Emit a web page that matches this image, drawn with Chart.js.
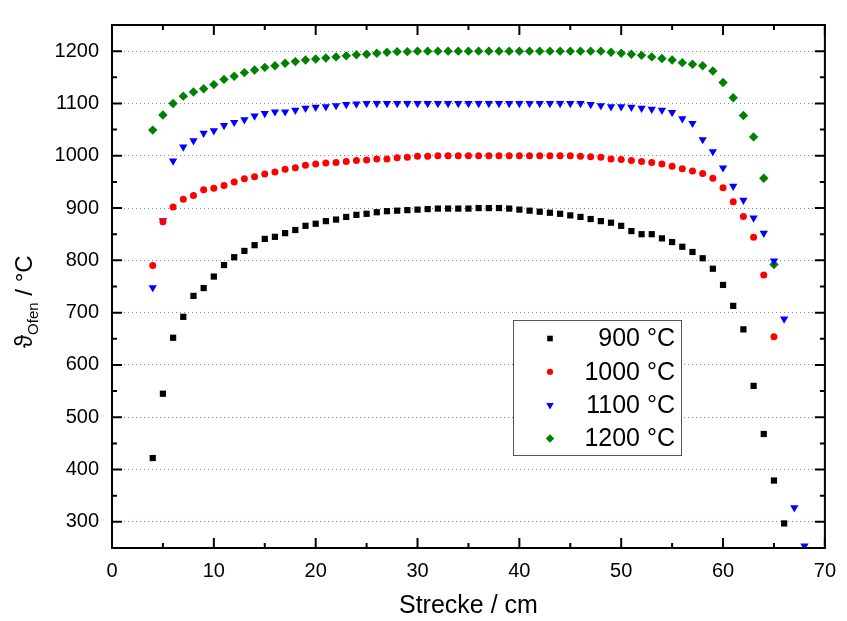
<!DOCTYPE html>
<html>
<head>
<meta charset="utf-8">
<title>Ofentemperatur über Strecke</title>
<script src="https://cdn.jsdelivr.net/npm/chart.js@4.4.1/dist/chart.umd.min.js"></script>
<style>
  html, body { margin: 0; padding: 0; background: #fff; }
  #wrap { width: 847px; height: 621px; }
</style>
</head>
<body>
<div id="wrap"><canvas id="ofenChart" width="847" height="621"></canvas></div>
<script>
// Messpunkte: Strecke in cm, Ofentemperatur in °C
const strecke = [4, 5, 6, 7, 8, 9, 10, 11, 12, 13, 14, 15, 16, 17, 18, 19, 20, 21, 22, 23,
  24, 25, 26, 27, 28, 29, 30, 31, 32, 33, 34, 35, 36, 37, 38, 39, 40, 41, 42, 43,
  44, 45, 46, 47, 48, 49, 50, 51, 52, 53, 54, 55, 56, 57, 58, 59, 60, 61, 62, 63,
  64, 65, 66, 67, 68];

const ofen900 = [422, 545, 652, 692, 732, 747, 769, 791, 806, 818,
  829, 841, 845, 852, 858, 866, 870, 875, 878, 883,
  887, 889, 892, 894, 895, 896, 897, 898, 899, 899,
  899, 899, 900, 900, 900, 899, 897, 895, 893, 891,
  889, 886, 883, 879, 875, 872, 866, 856, 850, 850,
  842, 835, 826, 816, 804, 784, 753, 713, 668, 560,
  468, 379, 297, null, null];

const ofen1000 = [790, 874, 902, 917, 924, 935, 938, 943, 950, 956,
  960, 965, 969, 974, 977, 982, 984, 986, 987, 989,
  991, 992, 994, 994, 996, 997, 999, 999, 1000, 1000,
  1000, 1000, 1000, 1000, 1000, 1000, 1000, 1000, 1000, 1000,
  1000, 1000, 999, 998, 997, 994, 993, 991, 989, 987,
  984, 980, 975, 971, 966, 957, 939, 912, 884, 844,
  772, 654, null, null, null];

const ofen1100 = [748, 876, 990, 1017, 1029, 1043, 1048, 1058, 1064, 1069,
  1076, 1081, 1084, 1084, 1087, 1091, 1093, 1094, 1096, 1098,
  1099, 1100, 1100, 1100, 1100, 1100, 1100, 1100, 1100, 1100,
  1100, 1100, 1100, 1100, 1100, 1100, 1100, 1100, 1100, 1100,
  1100, 1100, 1100, 1098, 1096, 1094, 1094, 1093, 1091, 1089,
  1087, 1083, 1071, 1062, 1031, 1008, 977, 942, 915, 881,
  852, 799, 688, 327, 254];

const ofen1200 = [1049, 1078, 1100, 1114, 1122, 1128, 1136, 1146, 1152, 1159,
  1164, 1169, 1172, 1177, 1180, 1183, 1185, 1187, 1189, 1191,
  1193, 1194, 1196, 1198, 1199, 1199, 1200, 1200, 1200, 1200,
  1200, 1200, 1200, 1200, 1200, 1200, 1200, 1200, 1200, 1200,
  1200, 1200, 1200, 1200, 1200, 1198, 1196, 1194, 1192, 1189,
  1186, 1183, 1178, 1175, 1172, 1162, 1140, 1111, 1077, 1036,
  957, 792, null, null, null];

const serienNamen = ['900 °C', '1000 °C', '1100 °C', '1200 °C'];
const xTicks = [0, 10, 20, 30, 40, 50, 60, 70];
const yTicks = [300, 400, 500, 600, 700, 800, 900, 1000, 1100, 1200];

const FONT = 'Arial, "Liberation Sans", sans-serif';

function punkte(werte) {
  return strecke.map((x, i) => ({ x: x, y: werte[i] })).filter(p => p.y !== null);
}

// Rahmen mit nach innen zeigenden Haupt- und Nebenstrichen auf allen vier Seiten
const rahmenPlugin = {
  id: 'rahmen',
  afterDraw(chart) {
    const { ctx, chartArea: a, scales } = chart;
    const xs = scales.x, ys = scales.y;
    ctx.save();
    ctx.strokeStyle = '#000';
    ctx.lineWidth = 2;
    ctx.beginPath();
    xTicks.forEach(v => {
      const px = xs.getPixelForValue(v);
      ctx.moveTo(px, a.bottom); ctx.lineTo(px, a.bottom - 10);
      ctx.moveTo(px, a.top); ctx.lineTo(px, a.top + 10);
      const m = v + 5;
      if (m < xs.max) {
        const pm = xs.getPixelForValue(m);
        ctx.moveTo(pm, a.bottom); ctx.lineTo(pm, a.bottom - 5);
        ctx.moveTo(pm, a.top); ctx.lineTo(pm, a.top + 5);
      }
    });
    yTicks.forEach(v => {
      const py = ys.getPixelForValue(v);
      ctx.moveTo(a.left, py); ctx.lineTo(a.left + 10, py);
      ctx.moveTo(a.right, py); ctx.lineTo(a.right - 10, py);
      const m = v + 50;
      if (m < ys.max) {
        const pm = ys.getPixelForValue(m);
        ctx.moveTo(a.left, pm); ctx.lineTo(a.left + 5, pm);
        ctx.moveTo(a.right, pm); ctx.lineTo(a.right - 5, pm);
      }
    });
    ctx.stroke();
    ctx.strokeRect(a.left, a.top, a.right - a.left, a.bottom - a.top);

    // y-Achsentitel mit Index
    ctx.translate(32, 348);
    ctx.rotate(-Math.PI / 2);
    ctx.fillStyle = '#000';
    ctx.textBaseline = 'alphabetic';
    ctx.font = '24px ' + FONT;
    ctx.fillText('\u03D1', 0, 0);
    let w = ctx.measureText('\u03D1').width;
    ctx.font = '15px ' + FONT;
    ctx.fillText('Ofen', w, 6);
    w += ctx.measureText('Ofen').width;
    ctx.font = '24px ' + FONT;
    ctx.fillText(' / °C', w, 0);
    ctx.restore();
  }
};

// Legende innerhalb der Zeichenfläche
const legendePlugin = {
  id: 'legendeInnen',
  afterDraw(chart) {
    const { ctx } = chart;
    ctx.save();
    ctx.fillStyle = '#fff';
    ctx.fillRect(513.5, 320.5, 168, 135);
    ctx.strokeStyle = '#555';
    ctx.lineWidth = 1;
    ctx.strokeRect(513.5, 320.5, 168, 135);
    ctx.font = '25px ' + FONT;
    ctx.textAlign = 'right';
    ctx.textBaseline = 'middle';
    chart.data.datasets.forEach((ds, i) => {
      const y = 338.5 + i * 33.3;
      ctx.fillStyle = ds.backgroundColor;
      ctx.strokeStyle = ds.borderColor;
      Chart.helpers.drawPoint(ctx, {
        pointStyle: ds.pointStyle,
        radius: ds.pointRadius * 0.9,
        rotation: ds.rotation || 0,
        borderWidth: 0
      }, 550, y);
      ctx.fillStyle = '#000';
      ctx.fillText(ds.label, 675, y + 1);
    });
    ctx.restore();
  }
};

const ctx = document.getElementById('ofenChart').getContext('2d');
new Chart(ctx, {
  type: 'scatter',
  data: {
    datasets: [
      { label: serienNamen[0], data: punkte(ofen900), pointStyle: 'rect', pointRadius: 4.4,
        backgroundColor: '#000000', borderColor: '#000000', borderWidth: 0 },
      { label: serienNamen[1], data: punkte(ofen1000), pointStyle: 'circle', pointRadius: 3.5,
        backgroundColor: '#ff0000', borderColor: '#ff0000', borderWidth: 0 },
      { label: serienNamen[2], data: punkte(ofen1100), pointStyle: 'triangle', rotation: 180, pointRadius: 4.8,
        backgroundColor: '#0000ff', borderColor: '#0000ff', borderWidth: 0 },
      { label: serienNamen[3], data: punkte(ofen1200), pointStyle: 'rectRot', pointRadius: 4.7,
        backgroundColor: '#008000', borderColor: '#008000', borderWidth: 0 }
    ]
  },
  options: {
    responsive: false,
    animation: false,
    layout: { padding: { top: 13, right: 12, bottom: 0, left: 0 } },
    plugins: {
      legend: { display: false },
      tooltip: { enabled: false }
    },
    scales: {
      x: {
        type: 'linear',
        min: 0,
        max: 70,
        afterBuildTicks: (scale) => { scale.ticks = xTicks.map(v => ({ value: v })); },
        afterFit: (scale) => { scale.height = 73; },
        grid: { display: false, drawTicks: false },
        border: { display: false },
        ticks: { padding: 11, color: '#000', font: { family: FONT, size: 20 }, callback: (v) => String(v) },
        title: {
          display: true,
          text: 'Strecke / cm',
          color: '#000',
          font: { family: FONT, size: 25 },
          padding: { top: 0, bottom: 0 }
        }
      },
      y: {
        type: 'linear',
        min: 250,
        max: 1250,
        afterBuildTicks: (scale) => { scale.ticks = yTicks.map(v => ({ value: v })); },
        afterFit: (scale) => { scale.width = 112; },
        grid: {
          color: 'rgba(110, 110, 215, 0.9)',
          lineWidth: 1,
          drawTicks: false
        },
        border: { display: false, dash: [1, 3] },
        ticks: { padding: 13, color: '#000', font: { family: FONT, size: 20 }, callback: (v) => String(v) }
      }
    }
  },
  plugins: [rahmenPlugin, legendePlugin]
});
</script>
</body>
</html>
